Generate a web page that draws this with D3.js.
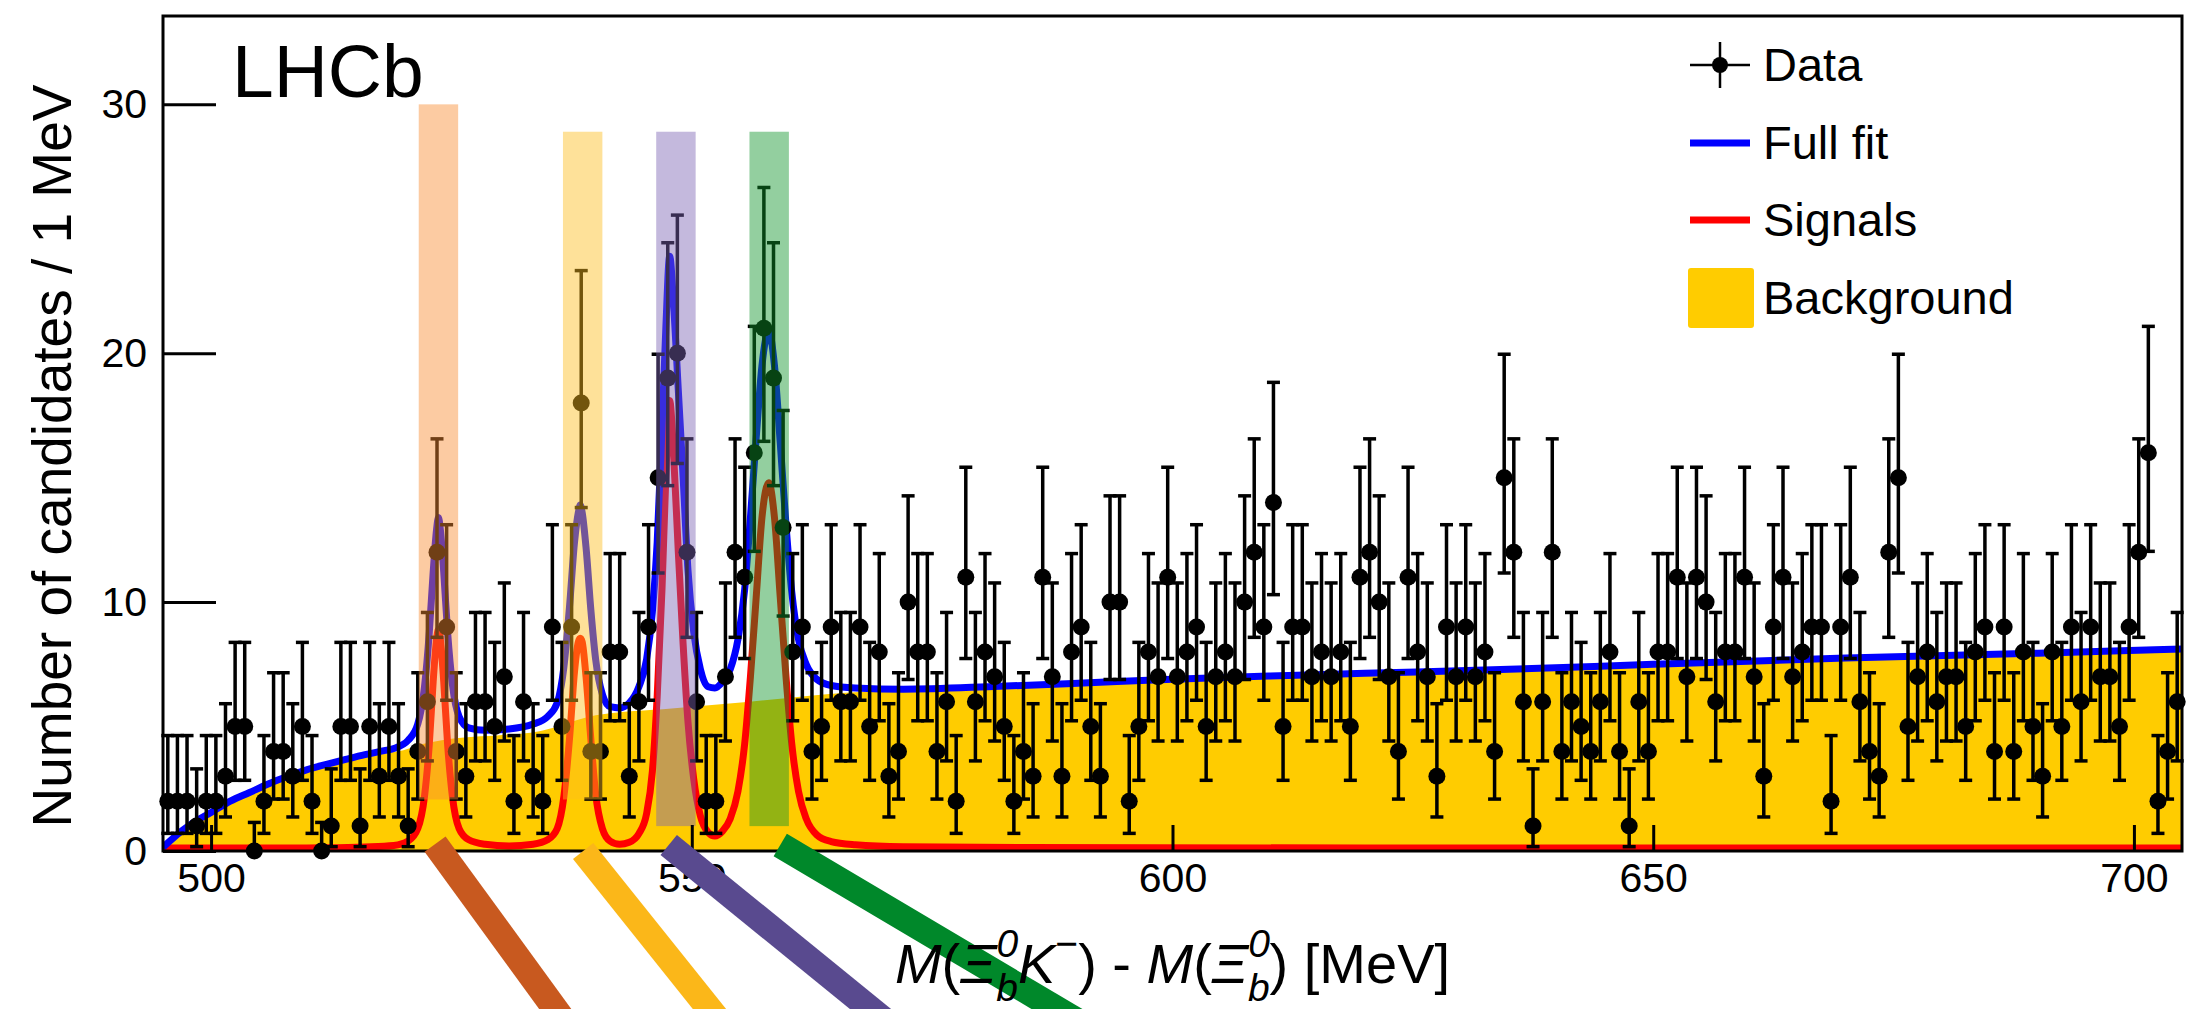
<!DOCTYPE html>
<html>
<head>
<meta charset="utf-8">
<script src="https://cdn.jsdelivr.net/npm/d3@7"></script>
<style>
  body { margin: 0; background: #fff; }
  svg text { font-family: "Liberation Sans", Arial, Helvetica, sans-serif; fill: #000; }
</style>
</head>
<body>
<svg id="chart"></svg>
<script>
// ---- data ----
// candidates per 1 MeV bin, first bin is [495, 496]
const histLow = 495;
const counts = [
  2, 2, 2, 1, 2, 2, 3, 5, 5, 0,
  2, 4, 4, 3, 5, 2, 0, 1, 5, 5,
  1, 5, 3, 5, 3, 1, 4, 6, 12, 9,
  4, 3, 6, 6, 5, 7, 2, 6, 3, 2,
  9, 5, 9, 18, 4, 4, 8, 8, 3, 6,
  9, 15, 19, 20, 12, 6, 2, 2, 7, 12,
  11, 16, 21, 19, 13, 8, 9, 4, 5, 9,
  6, 6, 9, 5, 8, 3, 4, 10, 8, 8,
  4, 6, 2, 11, 6, 8, 7, 5, 2, 4,
  3, 11, 7, 3, 8, 9, 5, 3, 10, 10,
  2, 5, 8, 7, 11, 7, 8, 9, 5, 7,
  8, 7, 10, 12, 9, 14, 5, 9, 9, 7,
  8, 7, 8, 5, 11, 12, 10, 7, 4, 11,
  8, 7, 3, 9, 7, 9, 7, 8, 4, 15,
  12, 6, 1, 6, 12, 4, 6, 5, 4, 6,
  8, 4, 1, 6, 4, 8, 8, 11, 7, 11,
  10, 6, 8, 8, 11, 7, 3, 9, 11, 7,
  8, 9, 9, 2, 9, 11, 6, 4, 3, 12,
  15, 5, 7, 8, 6, 7, 7, 5, 8, 9,
  4, 9, 4, 8, 5, 3, 8, 5, 9, 6,
  9, 7, 7, 5, 9, 12, 16, 2, 4, 6
];

// 68% Poisson interval for n = 0..21 (as drawn by the error bars)
const poissonLow  = [0, 0.173, 0.708, 1.367, 2.086, 2.840, 3.620, 4.419, 5.232, 6.057, 6.891,
                     7.734, 8.585, 9.441, 10.30, 11.17, 12.04, 12.92, 13.80, 14.68, 15.57, 16.46];
const poissonHigh = [1.148, 3.300, 4.638, 5.918, 7.163, 8.382, 9.584, 10.77, 11.95, 13.11, 14.27,
                     15.42, 16.56, 17.70, 18.83, 19.96, 21.08, 22.20, 23.32, 24.44, 25.55, 26.66];

// full fit (blue)
const fitCurve = [
  [495, 0.15], [496, 0.5], [497, 0.82], [498, 1.1], [500, 1.55], [502, 2.0], [504, 2.35],
  [506, 2.7], [508, 3.0], [510, 3.27], [512, 3.48], [514, 3.68], [516, 3.87], [518, 4.03],
  [519, 4.12], [520.5, 4.45], [521.5, 5.1], [522.2, 6.6], [522.7, 8.8], [523.1, 11.2],
  [523.45, 12.9], [523.65, 13.4], [523.85, 12.9], [524.2, 11.2], [524.6, 8.8], [525.1, 6.7],
  [525.8, 5.4], [526.8, 4.95], [528.5, 4.85], [531, 4.9], [533.5, 5.1], [535, 5.4],
  [536, 5.95], [536.7, 7.4], [537.3, 9.9], [537.8, 12.4], [538.2, 13.6], [538.4, 13.9],
  [538.6, 13.6], [539.0, 12.2], [539.5, 9.7], [540.0, 7.7], [540.7, 6.3], [541.5, 5.8],
  [542.5, 5.75], [543.5, 5.95], [544.5, 6.6], [545.3, 7.7], [545.9, 9.6], [546.4, 12.4],
  [546.9, 17.0], [547.3, 21.0], [547.7, 23.9], [548.1, 22.0], [548.6, 18.5], [549.1, 15.0],
  [549.6, 11.3], [550.2, 8.8], [550.9, 7.3], [551.7, 6.6], [552.4, 6.55], [553.2, 6.8],
  [554.0, 7.3], [554.8, 8.5], [555.5, 10.5], [556.1, 13.4], [556.7, 16.6], [557.3, 19.5],
  [558.0, 20.9], [558.6, 19.5], [559.2, 16.4], [559.8, 13.1], [560.4, 10.4], [561.1, 8.5],
  [561.9, 7.5], [563, 6.9], [564.5, 6.65], [567, 6.55], [572, 6.5], [582, 6.62],
  [589, 6.72], [600, 6.9], [610, 7.03], [620, 7.14], [635, 7.3], [650, 7.5], [670, 7.75],
  [690, 7.95], [705, 8.12]
];

// sum of the four signals (red)
const signalCurve = [
  [495, 0.12], [505, 0.12], [512, 0.13], [516, 0.16], [519, 0.22], [520.5, 0.4], [521.5, 0.9],
  [522.2, 2.2], [522.7, 4.3], [523.1, 6.8], [523.45, 8.5], [523.65, 8.9], [523.85, 8.5],
  [524.2, 6.8], [524.6, 4.3], [525.1, 2.2], [525.8, 0.9], [526.8, 0.45], [528.5, 0.27],
  [531, 0.2], [533.5, 0.27], [535, 0.45], [536, 0.9], [536.7, 2.2], [537.3, 4.6],
  [537.8, 7.2], [538.2, 8.4], [538.4, 8.55], [538.6, 8.4], [539.0, 7.0], [539.5, 4.5],
  [540.0, 2.3], [540.7, 0.9], [541.5, 0.4], [542.5, 0.27], [543.5, 0.35], [544.5, 0.7],
  [545.3, 1.5], [545.9, 3.2], [546.4, 6.2], [546.9, 10.5], [547.3, 15.0], [547.7, 18.1],
  [548.1, 16.0], [548.6, 12.0], [549.1, 8.3], [549.6, 5.2], [550.2, 2.9], [550.9, 1.4],
  [551.7, 0.75], [552.4, 0.6], [553.2, 0.8], [554.0, 1.3], [554.8, 2.4], [555.5, 4.3],
  [556.1, 7.0], [556.7, 10.2], [557.3, 13.4], [558.0, 14.8], [558.6, 13.4], [559.2, 10.2],
  [559.8, 7.0], [560.4, 4.3], [561.1, 2.4], [561.9, 1.3], [563, 0.65], [564.5, 0.38],
  [567, 0.25], [572, 0.17], [585, 0.14], [620, 0.12], [705, 0.12]
];

// background component (filled)
const bkgCurve = [
  [495, 0.1], [496, 0.45], [497, 0.78], [498, 1.05], [500, 1.5], [502, 1.95], [504, 2.3],
  [506, 2.65], [508, 2.95], [510, 3.22], [512, 3.42], [514, 3.6], [516, 3.77], [518, 3.92],
  [520, 4.05], [522, 4.3], [524, 4.45], [526, 4.55], [530, 4.65], [534, 4.8], [536, 5.0],
  [538, 5.25], [540, 5.45], [543, 5.6], [547, 5.7], [550, 5.8], [553, 5.9], [556, 6.0],
  [560, 6.15], [564, 6.3], [568, 6.4], [575, 6.45], [582, 6.6], [589, 6.7], [600, 6.88],
  [610, 7.02], [620, 7.13], [635, 7.28], [650, 7.48], [670, 7.73], [690, 7.93], [705, 8.1]
];

// highlighted peak windows and the leader strips under the axis
const bandCenters = [523.65, 538.65, 548.35, 558.05];
const bandHalfWidth = 2.05;
const bandTops = [30.0, 28.9, 28.9, 28.9];
const bandBottoms = [2.07, 2.07, 1.0, 1.0];
const bandColors = ['#f98c31', '#fdbd1c', '#7c63b4', '#0f952a'];
const legFrom = [[523.3, 0.28], [538.7, 0.0], [547.6, 0.24], [559.2, 0.24]];
const legTo = [[537.4, -7.2], [553.6, -7.2], [571.3, -7.2], [591.7, -7.2]];
const legColors = ['#c8591f', '#fbb719', '#594a8f', '#00882a'];

const xMajorTicks = [500, 550, 600, 650, 700];
const xMinorTicks = d3.range(500, 705, 10).filter(v => v % 50 !== 0);
const yMajorTicks = [0, 10, 20, 30];
const yMinorTicks = d3.range(2, 34, 2).filter(v => v % 10 !== 0);

const legendItems = ['Data', 'Full fit', 'Signals', 'Background'];

// ---- drawing ----
const width = 2203, height = 1009;
const plot = { left: 163, right: 2182, top: 16, bottom: 851 };

const svg = d3.select('#chart').attr('width', width).attr('height', height);

const x = d3.scaleLinear().domain([495, 705]).range([plot.left, plot.right]);
const y = d3.scaleLinear().domain([0, 33.55]).range([plot.bottom, plot.top]);

svg.append('defs').append('clipPath').attr('id', 'plotClip')
  .append('rect')
  .attr('x', plot.left).attr('y', plot.top)
  .attr('width', plot.right - plot.left).attr('height', plot.bottom - plot.top + 4);

const inner = svg.append('g').attr('clip-path', 'url(#plotClip)');

// background fill
inner.append('path')
  .datum(bkgCurve)
  .attr('fill', '#ffcc00')
  .attr('d', d3.area()
    .x(d => x(d[0]))
    .y0(y(0))
    .y1(d => y(d[1]))
    .curve(d3.curveMonotoneX));

// data points with error bars (under the fit lines)
const bins = counts.map((n, i) => ({ m: histLow + i + 0.5, n: n }));
const pts = svg.append('g').selectAll('g').data(bins).join('g')
  .attr('stroke', '#000').attr('stroke-width', 3.5);
pts.append('line')
  .attr('x1', d => x(d.m)).attr('x2', d => x(d.m))
  .attr('y1', d => y(poissonLow[d.n])).attr('y2', d => y(poissonHigh[d.n]));
pts.append('line')
  .attr('x1', d => x(d.m) - 6.5).attr('x2', d => x(d.m) + 6.5)
  .attr('y1', d => y(poissonHigh[d.n])).attr('y2', d => y(poissonHigh[d.n]));
pts.filter(d => d.n > 0).append('line')
  .attr('x1', d => x(d.m) - 6.5).attr('x2', d => x(d.m) + 6.5)
  .attr('y1', d => y(poissonLow[d.n])).attr('y2', d => y(poissonLow[d.n]));
pts.append('circle')
  .attr('cx', d => x(d.m)).attr('cy', d => y(d.n)).attr('r', 8.5)
  .attr('stroke', 'none').attr('fill', '#000');

const curveLine = d3.line().x(d => x(d[0])).y(d => y(d[1])).curve(d3.curveMonotoneX);

inner.append('path').datum(signalCurve)
  .attr('fill', 'none').attr('stroke', '#ff0000').attr('stroke-width', 7)
  .attr('stroke-linejoin', 'round').attr('d', curveLine);

inner.append('path').datum(fitCurve)
  .attr('fill', 'none').attr('stroke', '#0000ff').attr('stroke-width', 7)
  .attr('stroke-linejoin', 'round').attr('d', curveLine);

// shaded peak windows
svg.append('g').selectAll('rect').data(bandCenters).join('rect')
  .attr('x', d => x(d - bandHalfWidth))
  .attr('width', d => x(d + bandHalfWidth) - x(d - bandHalfWidth))
  .attr('y', (d, i) => y(bandTops[i]))
  .attr('height', (d, i) => y(bandBottoms[i]) - y(bandTops[i]))
  .attr('fill', (d, i) => bandColors[i])
  .attr('fill-opacity', 0.45);

// axes
const fontSize = 41;
const gx = svg.append('g').attr('transform', `translate(0,${plot.bottom})`);
gx.call(d3.axisBottom(x).tickValues(xMinorTicks).tickSize(-13).tickFormat(''));
gx.call(d3.axisBottom(x).tickValues(xMajorTicks).tickSize(-26).tickPadding(12).tickFormat(d3.format('d')));

const gy = svg.append('g').attr('transform', `translate(${plot.left},0)`);
gy.call(d3.axisLeft(y).tickValues(yMinorTicks).tickSize(-26).tickFormat(''));
gy.call(d3.axisLeft(y).tickValues(yMajorTicks).tickSize(-53).tickPadding(16).tickFormat(d3.format('d')));

[gx, gy].forEach(g => {
  g.selectAll('.domain').remove();
  g.selectAll('.tick line').attr('stroke', '#000').attr('stroke-width', 3);
  g.selectAll('.tick text')
    .style('font-family', '"Liberation Sans", Arial, sans-serif')
    .style('font-size', fontSize + 'px')
    .attr('fill', '#000');
});

svg.append('rect')
  .attr('x', plot.left).attr('y', plot.top)
  .attr('width', plot.right - plot.left).attr('height', plot.bottom - plot.top)
  .attr('fill', 'none').attr('stroke', '#000').attr('stroke-width', 3);

// leader strips below the axis
svg.append('g').selectAll('line').data(legFrom).join('line')
  .attr('x1', d => x(d[0])).attr('y1', d => y(d[1]))
  .attr('x2', (d, i) => x(legTo[i][0])).attr('y2', (d, i) => y(legTo[i][1]))
  .attr('stroke', (d, i) => legColors[i])
  .attr('stroke-width', 26)
  .attr('stroke-linecap', 'butt');

// axis titles
svg.append('text')
  .attr('transform', 'translate(71,456) rotate(-90)')
  .attr('text-anchor', 'middle')
  .style('font-size', '55px')
  .text('Number of candidates / 1 MeV');

const xt = svg.append('text')
  .attr('x', (plot.left + plot.right) / 2)
  .attr('y', 983)
  .attr('text-anchor', 'middle')
  .style('font-size', '56px');
xt.append('tspan').style('font-style', 'italic').text('M');
xt.append('tspan').text('(');
xt.append('tspan').style('font-style', 'italic').text('Ξ');
xt.append('tspan').style('font-style', 'italic').style('font-size', '39px').attr('dy', -26).text('0');
xt.append('tspan').style('font-style', 'italic').style('font-size', '39px').attr('dx', -22).attr('dy', 44).text('b');
xt.append('tspan').style('font-style', 'italic').attr('dy', -18).text('K');
xt.append('tspan').style('font-size', '39px').attr('dy', -26).text('−');
xt.append('tspan').attr('dy', 26).text(') - ');
xt.append('tspan').style('font-style', 'italic').text('M');
xt.append('tspan').text('(');
xt.append('tspan').style('font-style', 'italic').text('Ξ');
xt.append('tspan').style('font-style', 'italic').style('font-size', '39px').attr('dy', -26).text('0');
xt.append('tspan').style('font-style', 'italic').style('font-size', '39px').attr('dx', -22).attr('dy', 44).text('b');
xt.append('tspan').attr('dy', -18).text(') [MeV]');

// LHCb label
svg.append('text').attr('x', 232).attr('y', 97).style('font-size', '75px').text('LHCb');

// legend
const legend = svg.append('g').attr('transform', 'translate(1690,0)');
const rowY = [65, 143, 220, 298];
legend.append('line').attr('x1', 0).attr('x2', 60).attr('y1', rowY[0]).attr('y2', rowY[0])
  .attr('stroke', '#000').attr('stroke-width', 2.5);
legend.append('line').attr('x1', 30).attr('x2', 30).attr('y1', rowY[0] - 23).attr('y2', rowY[0] + 23)
  .attr('stroke', '#000').attr('stroke-width', 2.5);
legend.append('circle').attr('cx', 30).attr('cy', rowY[0]).attr('r', 8).attr('fill', '#000');
legend.append('line').attr('x1', 0).attr('x2', 60).attr('y1', rowY[1]).attr('y2', rowY[1])
  .attr('stroke', '#0000ff').attr('stroke-width', 7);
legend.append('line').attr('x1', 0).attr('x2', 60).attr('y1', rowY[2]).attr('y2', rowY[2])
  .attr('stroke', '#ff0000').attr('stroke-width', 7);
legend.append('rect').attr('x', -2).attr('y', rowY[3] - 30).attr('width', 66).attr('height', 60)
  .attr('rx', 3).attr('fill', '#ffcc00');
legend.selectAll('text.item').data(legendItems).join('text')
  .attr('class', 'item')
  .attr('x', 73)
  .attr('y', (d, i) => rowY[i] + 16)
  .style('font-size', '47px')
  .text(d => d);
</script>
</body>
</html>
